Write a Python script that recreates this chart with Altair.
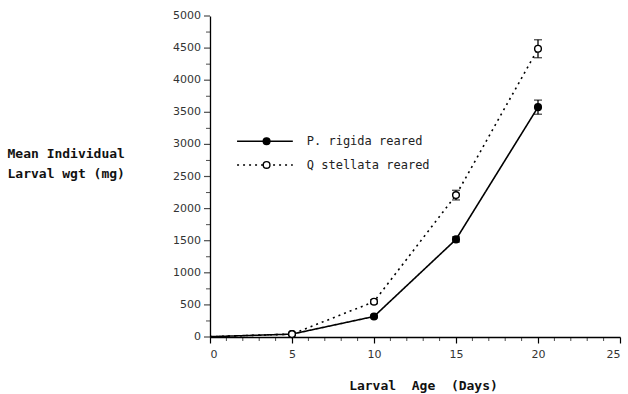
import altair as alt
import pandas as pd

# Larval growth on two host plants: mean individual weight (mg) by age (days)
days = [0, 5, 10, 15, 20]
series = ["P. rigida reared", "Q stellata reared"]
rigida_mean = [5, 45, 320, 1520, 3580]
rigida_err = [0, 8, 20, 40, 110]
stellata_mean = [5, 45, 550, 2210, 4490]
stellata_err = [0, 8, 30, 75, 140]

x_major = [0, 5, 10, 15, 20, 25]
x_minor = [d for d in range(0, 26) if d % 5]
y_major = list(range(0, 5001, 500))
y_minor = list(range(250, 5000, 500))

# legend rows placed in data units inside the plot
legend_x0, legend_x1, legend_mark_x, legend_text_x = 1.65, 5.05, 3.45, 5.9
legend_y = [3050, 2680]

rows = []
for name, means, errs in [(series[0], rigida_mean, rigida_err),
                          (series[1], stellata_mean, stellata_err)]:
    for d, m, e in zip(days, means, errs):
        rows.append({"series": name, "day": d, "mean": m,
                     "lo": m - e, "hi": m + e})
df = pd.DataFrame(rows)
pts = df[df["day"] > 0]
err = df[df["hi"] > df["lo"]]

leg_rows = []
for name, yv in zip(series, legend_y):
    leg_rows.append({"series": name, "x": legend_x0, "y": yv, "mx": legend_mark_x, "tx": legend_text_x})
    leg_rows.append({"series": name, "x": legend_x1, "y": yv, "mx": legend_mark_x, "tx": legend_text_x})
leg = pd.DataFrame(leg_rows)
leg_pt = leg.drop_duplicates("series")

y_ticks = pd.DataFrame({"v": y_major, "label": [str(v) for v in y_major]})

x_scale = alt.Scale(domain=[0, 25], nice=False)
y_scale = alt.Scale(domain=[0, 5000], nice=False)
dash = alt.Scale(domain=series, range=[[1, 0], [2, 4]])
fill = alt.Scale(domain=series, range=["black", "white"])

x_axis = alt.Axis(values=x_major, format="d", title="Larval\u00a0\u00a0Age\u00a0\u00a0(Days)",
                  grid=False, tickSize=6, labelPadding=5, labelOverlap=False,
                  titleY=48, titleX=213, titleBaseline="middle")
# y axis: domain line and title; its tick labels are drawn by a text layer
y_axis = alt.Axis(values=y_major, grid=False, ticks=False, labels=False,
                  title=["Mean Individual", "Larval wgt (mg)"],
                  titleAngle=0, titleAlign="left", titleBaseline="top",
                  titleX=-203, titleY=131, titleLineHeight=20)


# every layer shares the same scales and axis definitions
def qx(field):
    return alt.X(field, type="quantitative", scale=x_scale, axis=x_axis)


def qy(field):
    return alt.Y(field, type="quantitative", scale=y_scale, axis=y_axis)


lines = alt.Chart(df).mark_line(color="black", strokeWidth=1.6).encode(
    x=qx("day"), y=qy("mean"),
    strokeDash=alt.StrokeDash("series:N", scale=dash, legend=None),
    detail="series:N",
)

bars = alt.Chart(err).mark_rule(color="black", strokeWidth=1.3).encode(
    x=qx("day"), y=qy("lo"), y2="hi:Q")
cap_lo = alt.Chart(err).mark_tick(orient="horizontal", color="black", size=8,
                                  thickness=1.3).encode(x=qx("day"), y=qy("lo"))
cap_hi = alt.Chart(err).mark_tick(orient="horizontal", color="black", size=8,
                                  thickness=1.3).encode(x=qx("day"), y=qy("hi"))

points = alt.Chart(pts).mark_point(shape="circle", size=45, stroke="black",
                                   strokeWidth=1.4, opacity=1, filled=False).encode(
    x=qx("day"), y=qy("mean"),
    fill=alt.Fill("series:N", scale=fill, legend=None),
)

minor_x = alt.Chart(pd.DataFrame({"day": x_minor})).mark_tick(
    orient="vertical", color="black", size=4, thickness=1, yOffset=2
).encode(x=qx("day"), y=alt.datum(0))

major_y = alt.Chart(y_ticks).mark_tick(
    orient="horizontal", color="black", size=6, thickness=1.2, xOffset=-3
).encode(y=qy("v"), x=alt.datum(0))
minor_y = alt.Chart(pd.DataFrame({"v": y_minor})).mark_tick(
    orient="horizontal", color="black", size=4, thickness=1, xOffset=-2
).encode(y=qy("v"), x=alt.datum(0))
labels_y = alt.Chart(y_ticks).mark_text(
    align="right", baseline="middle", font="DejaVu Sans", fontSize=11,
    color="#333", dx=-9
).encode(y=qy("v"), x=alt.datum(0), text="label:N")

leg_lines = alt.Chart(leg).mark_line(color="black", strokeWidth=1.4).encode(
    x=qx("x"), y=qy("y"),
    strokeDash=alt.StrokeDash("series:N", scale=dash, legend=None),
    detail="series:N",
)
leg_pts = alt.Chart(leg_pt).mark_point(shape="circle", size=45, stroke="black",
                                       strokeWidth=1.4, opacity=1).encode(
    x=qx("mx"), y=qy("y"),
    fill=alt.Fill("series:N", scale=fill, legend=None),
)
leg_text = alt.Chart(leg_pt).mark_text(align="left", baseline="middle",
                                       font="DejaVu Sans Mono", fontSize=12,
                                       color="#222").encode(
    x=qx("tx"), y=qy("y"), text="series:N")

chart = alt.layer(
    lines, bars, cap_lo, cap_hi, points, minor_x, major_y, minor_y, labels_y,
    leg_lines, leg_pts, leg_text,
).properties(
    width=410, height=321,
    autosize=alt.AutoSizeParams(type="none"),
    padding={"left": 210, "top": 16, "right": 8, "bottom": 57},
    background="white",
).configure_view(stroke=None).configure_axis(
    domainColor="black", domainWidth=1.3, tickColor="black", tickWidth=1.2,
    labelFont="DejaVu Sans", labelFontSize=11, labelColor="#333",
    labelOverlap=False,
    titleFont="DejaVu Sans Mono", titleFontSize=13, titleFontWeight="bold",
    titleColor="#111",
)

chart.save("out.html", embed_options={"renderer": "svg", "actions": False})
